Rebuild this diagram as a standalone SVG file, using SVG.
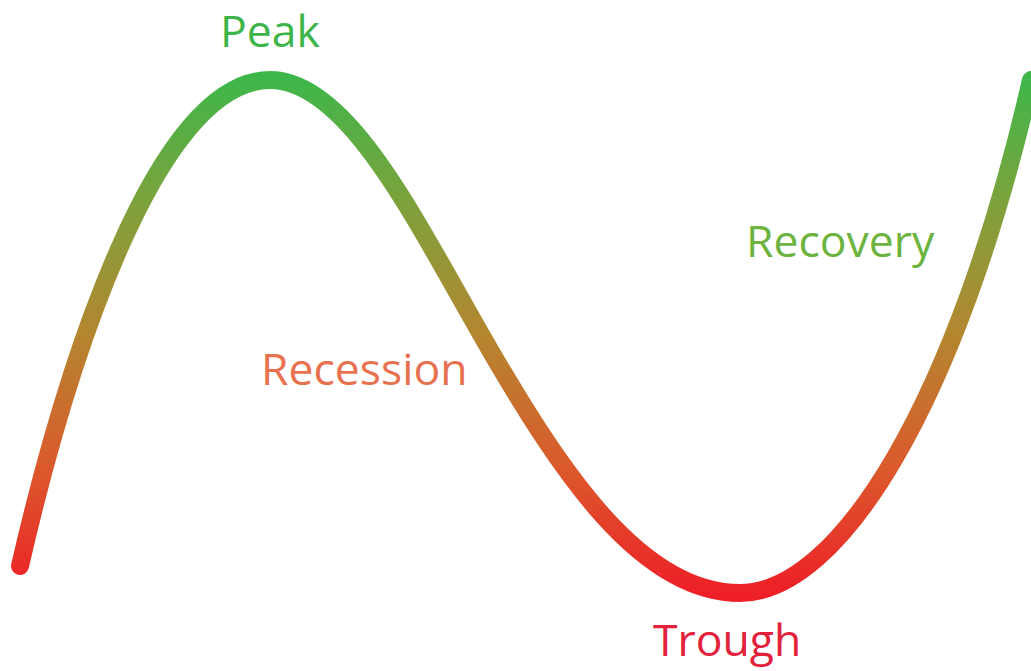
<svg xmlns="http://www.w3.org/2000/svg" width="1031" height="671" viewBox="0 0 1031 671">
  <style>
    .lbl { font-family: "Open Sans", "Liberation Sans", sans-serif; font-size: 44.5px; }
    .curve { fill: none; stroke: url(#cycleGrad); stroke-width: 18; stroke-linecap: round; stroke-linejoin: round; }
  </style>
  <defs>
    <linearGradient id="cycleGrad" gradientUnits="userSpaceOnUse" x1="0" y1="80" x2="0" y2="595">
      <stop offset="0" stop-color="#3fb64a"/>
      <stop offset="0.25" stop-color="#80a13b"/>
      <stop offset="0.5" stop-color="#b5852f"/>
      <stop offset="0.75" stop-color="#db5a2c"/>
      <stop offset="1" stop-color="#ee1f27"/>
    </linearGradient>
  </defs>
  <rect width="1031" height="671" fill="#ffffff"/>
  <g id="connectors">
    <path class="curve" d="M20,566 C65,370 155,80 270,80 C350,80 420,230 490,350 C560,470 640,593 740,593 C840,593 958,400 1031,80"/>
  </g>
  <g id="peak">
    <text class="lbl" x="220" y="47" fill="#3db54a">Peak</text>
  </g>
  <g id="recession">
    <text class="lbl" x="261" y="385" fill="#e8714f">Recession</text>
  </g>
  <g id="recovery">
    <text class="lbl" x="746" y="257" fill="#6db33f">Recovery</text>
  </g>
  <g id="trough">
    <text class="lbl" x="653" y="656" fill="#e2213a">Trough</text>
  </g>
</svg>
